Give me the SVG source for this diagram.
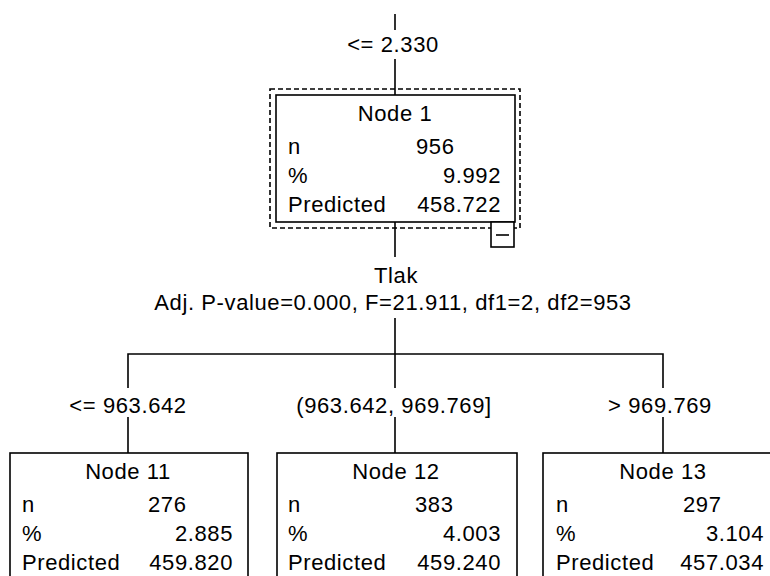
<svg xmlns="http://www.w3.org/2000/svg" width="770" height="576" viewBox="0 0 770 576">
<style>
text{font-family:"Liberation Sans",Arial,sans-serif;font-size:22px;letter-spacing:0.6px;fill:#000}
.c{text-anchor:middle}
.e{text-anchor:end}
.box{fill:#fff;stroke:#000;stroke-width:1.6}
.ln{fill:none;stroke:#000;stroke-width:1.6}
.dash{fill:none;stroke:#000;stroke-width:1.6;stroke-dasharray:5 3}
</style>
<rect x="0" y="0" width="770" height="576" fill="#fff"/>
<g id="connectors">
<path class="ln" d="M395 14V30M395 59V95"/>
<path class="ln" d="M395 222V257M395 318V388M395 417V453"/>
<path class="ln" d="M128 388V354H663V388M128 417V453M663 417V453"/>
<text class="c" x="393" y="52">&lt;= 2.330</text>
<text class="c" x="396" y="283">Tlak</text>
<text class="c" x="393" y="310">Adj. P-value=0.000, F=21.911, df1=2, df2=953</text>
<text class="c" x="128" y="413">&lt;= 963.642</text>
<text class="c" x="394" y="413">(963.642, 969.769]</text>
<text class="c" x="660" y="413">&gt; 969.769</text>
</g>
<g id="node1">
<rect class="dash" x="270" y="89" width="250" height="139"/>
<rect class="box" x="276" y="95" width="239" height="127"/>
<rect class="box" x="491" y="222" width="23" height="25"/>
<path class="ln" d="M496 235H509"/>
<text class="c" x="395" y="121">Node 1</text>
<text x="288" y="154">n</text><text x="416" y="154">956</text>
<text x="288" y="183">%</text><text class="e" x="501" y="183">9.992</text>
<text x="288" y="212">Predicted</text><text class="e" x="501" y="212">458.722</text>
</g>
<g id="node11">
<rect class="box" x="10" y="453" width="238" height="140"/>
<text class="c" x="128" y="479">Node 11</text>
<text x="22" y="512">n</text><text x="148" y="512">276</text>
<text x="22" y="541">%</text><text class="e" x="233" y="541">2.885</text>
<text x="22" y="570">Predicted</text><text class="e" x="233" y="570">459.820</text>
</g>
<g id="node12">
<rect class="box" x="277" y="453" width="240" height="140"/>
<text class="c" x="396" y="479">Node 12</text>
<text x="288" y="512">n</text><text x="415" y="512">383</text>
<text x="288" y="541">%</text><text class="e" x="501" y="541">4.003</text>
<text x="288" y="570">Predicted</text><text class="e" x="501" y="570">459.240</text>
</g>
<g id="node13">
<rect class="box" x="543" y="453" width="240" height="140"/>
<text class="c" x="663" y="479">Node 13</text>
<text x="556" y="512">n</text><text x="683" y="512">297</text>
<text x="556" y="541">%</text><text class="e" x="764" y="541">3.104</text>
<text x="556" y="570">Predicted</text><text class="e" x="764" y="570">457.034</text>
</g>
</svg>
